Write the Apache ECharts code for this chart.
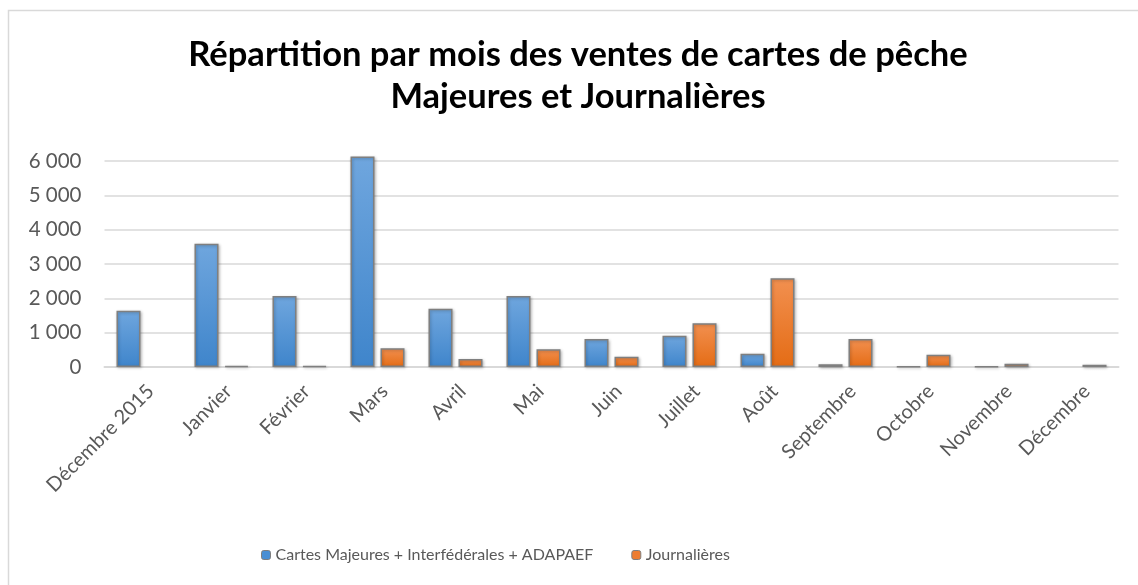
<!DOCTYPE html>
<html><head><meta charset="utf-8">
<script src="https://cdn.jsdelivr.net/npm/echarts@6/dist/echarts.min.js"></script>
<style>html,body{margin:0;padding:0;background:#fff}#c{width:1138px;height:585px}</style>
</head><body><div id="c"></div>
<script>
const categories = ['Décembre 2015','Janvier','Février','Mars','Avril','Mai','Juin','Juillet','Août','Septembre','Octobre','Novembre','Décembre'];
const majeures = [1640, 3590, 2070, 6130, 1700, 2070, 816, 913, 388, 80, 15, 15, null];
const journalieres = [null, 35, 25, 545, 233, 516, 300, 1274, 2586, 816, 360, 95, 65];
const seriesNames = ['Cartes Majeures + Interfédérales + ADAPAEF', 'Journalières'];
const titleLines = ['Répartition par mois des ventes de cartes de pêche', 'Majeures et Journalières'];

const font = 'Lato, "Open Sans", sans-serif';
const chart = echarts.init(document.getElementById('c'), null, {renderer:'canvas'});
const blueGrad = new echarts.graphic.LinearGradient(0,0,0,1,[{offset:0,color:'#6fa6de'},{offset:1,color:'#3f85cb'}]);
const orangeGrad = new echarts.graphic.LinearGradient(0,0,0,1,[{offset:0,color:'#f29050'},{offset:1,color:'#e46c15'}]);
chart.setOption({
  animation:false,
  backgroundColor:'#fff',
  graphic:[
    {type:'rect', shape:{x:8.5,y:10.5,width:1200,height:700}, style:{fill:'none', stroke:'#d9d9d9', lineWidth:1.5}, silent:true},
    {type:'text', x:578, y:55, style:{text:titleLines[0], font:'bold 34.5px '+font, fill:'#000', align:'center', verticalAlign:'middle'}},
    {type:'text', x:578, y:97, style:{text:titleLines[1], font:'bold 34.5px '+font, fill:'#000', align:'center', verticalAlign:'middle'}}
  ],
  legend:{top:542, left:256, itemWidth:9, itemHeight:9, itemGap:38,
    textStyle:{fontFamily:font, fontSize:16, color:'#595959'},
    data:[{name:seriesNames[0], itemStyle:{color:'#4a8fd4', borderColor:'#7f7f7f', borderWidth:1}},
          {name:seriesNames[1], itemStyle:{color:'#ed7d31', borderColor:'#7f7f7f', borderWidth:1}}]},
  grid:{left:104.5, right:19.5, top:161, bottom:218},
  xAxis:{type:'category', data:categories,
    axisLine:{lineStyle:{color:'#d9d9d9', width:2}}, axisTick:{show:false},
    axisLabel:{rotate:45, interval:0, fontFamily:font, fontSize:20, color:'#595959', margin:14, align:'right', verticalAlign:'top'}},
  yAxis:{type:'value', min:0, max:6000, interval:1000,
    axisLine:{show:false}, axisTick:{show:false},
    splitLine:{lineStyle:{color:'#d9d9d9', width:1.5}},
    axisLabel:{fontFamily:font, fontSize:20.5, color:'#595959', margin:23,
      formatter:v=>String(v).replace(/\B(?=(\d{3})+(?!\d))/g,' ')}},
  series:[
    {name:seriesNames[0], type:'bar', data:majeures, barWidth:24, barGap:'25%', clip:false,
     itemStyle:{color:blueGrad, borderColor:'#7f7f7f', borderWidth:1.5, shadowColor:'rgba(0,0,0,0.25)', shadowBlur:3, shadowOffsetX:1, shadowOffsetY:1}},
    {name:seriesNames[1], type:'bar', data:journalieres, barWidth:24, clip:false,
     itemStyle:{color:orangeGrad, borderColor:'#7f7f7f', borderWidth:1.5, shadowColor:'rgba(0,0,0,0.25)', shadowBlur:3, shadowOffsetX:1, shadowOffsetY:1}}
  ]
});
</script></body></html>
